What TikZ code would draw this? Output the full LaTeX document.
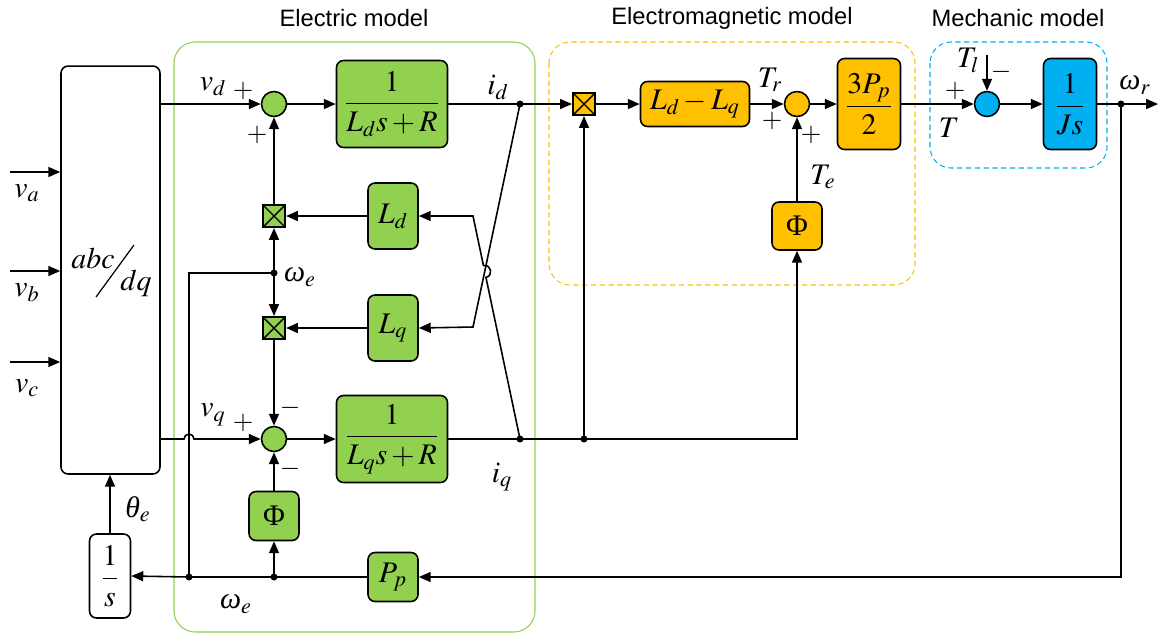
\documentclass[tikz,border=0pt]{standalone}
\usepackage{mathptmx}
\usepackage[no-math]{fontspec}
\newfontfamily\titlefont{Liberation Sans}
\newfontfamily\grkfont{Liberation Serif}
\usepackage{amsmath}
\usepackage{tikz}
\usetikzlibrary{arrows.meta,calc}
\definecolor{elecGreen} {RGB}{146, 208,  80}
\definecolor{emagOrange}{RGB}{255, 192,   0}
\definecolor{mechBlue}  {RGB}{  0, 176, 240}
\newcommand{\gomega}{\text{\grkfont\itshape ω}}
\newcommand{\gtheta}{\text{\grkfont\itshape θ}}
\newcommand{\gPhi}{\text{\grkfont Φ}}

\tikzset{
  blk/.style={draw=black,line width=0.9pt,rounded corners=4pt,align=center,
              inner sep=0pt,font=\fontsize{17}{20}\selectfont},
  gblk/.style={blk,fill=elecGreen},
  oblk/.style={blk,fill=emagOrange},
  bblk/.style={blk,fill=mechBlue},
  wblk/.style={blk,fill=white},
  sumc/.style={circle,draw=black,line width=0.9pt,minimum size=0.5cm,inner sep=0pt},
  mult/.style={rectangle,draw=black,line width=0.9pt,minimum size=0.45cm,inner sep=0pt,
               path picture={\draw[line width=0.8pt]
                 (path picture bounding box.north west)--(path picture bounding box.south east)
                 (path picture bounding box.north east)--(path picture bounding box.south west);}},
  sig/.style={line width=0.9pt,-{Triangle[length=6.8pt,width=5.7pt]}},
  wire/.style={line width=0.9pt},
  lbl/.style={inner sep=0pt,font=\fontsize{17}{20}\selectfont},
  sgn/.style={inner sep=0pt,font=\fontsize{15}{18}\selectfont},
  ttl/.style={font=\titlefont\fontsize{13.5}{16}\selectfont},
}

\begin{document}
\begin{tikzpicture}[x=0.02cm,y=-0.02cm]
  \useasboundingbox (0,0) rectangle (1158,633);

  % ── FRAMES ─────────────────────────────────────────────
  \draw[elecGreen,line width=0.6pt,rounded corners=12pt] (174,42) rectangle (535,632);
  \draw[emagOrange,line width=0.6pt,dash pattern=on 3pt off 2pt,rounded corners=12pt]
    (549,42) rectangle (915,285);
  \draw[mechBlue,line width=0.6pt,dash pattern=on 3pt off 2pt,rounded corners=12pt]
    (930,42) rectangle (1107,168);
  \node[ttl] (ttlE) at (354,18){Electric model};
  \node[ttl] (ttlM) at (732,18){Electromagnetic model};
  \node[ttl] (ttlK) at (1018,18){Mechanic model};

  % ── ABC/DQ ─────────────────────────────────────────────
  \node[wblk,minimum width=1.98cm,minimum height=8.16cm] (abc) at (110.5,270){};
  \node[lbl] (abctxt) at (93,258){$abc$};
  \node[lbl] (dqtxt) at (136,283){$dq$};
  \draw[line width=0.7pt] (96,297)--(134,245);
  \node[wblk,minimum width=0.82cm,minimum height=1.68cm] (invs) at (110,576){$\dfrac{1}{s}$};
  \coordinate (vain) at (10,172);
  \coordinate (vbin) at (10,271);
  \coordinate (vcin) at (10,362);
  \draw[sig] (vain) -- (vain -| abc.west);
  \draw[sig] (vbin) -- (vbin -| abc.west);
  \draw[sig] (vcin) -- (vcin -| abc.west);
  \node[lbl] (va) at (27,193){$v_a$};
  \node[lbl] (vb) at (27,293){$v_b$};
  \node[lbl] (vc) at (27,388){$v_c$};
  \node[lbl] (the) at (138,509){$\gtheta_e$};

  % ── ELECTRIC MODEL ─────────────────────────────────────
  \node[sumc,fill=elecGreen] (sumd) at (274,104){};
  \node[sumc,fill=elecGreen] (sumq) at (274,439){};
  \node[gblk,minimum width=2.22cm,minimum height=1.74cm] (gd) at (392,104){$\dfrac{1}{L_d s+R}$};
  \node[gblk,minimum width=2.22cm,minimum height=1.74cm] (gq) at (392,439){$\dfrac{1}{L_q s+R}$};
  \node[gblk,minimum width=1.0cm,minimum height=1.32cm] (Ld) at (393,216){$L_d$};
  \node[gblk,minimum width=1.0cm,minimum height=1.32cm] (Lq) at (393,328){$L_q$};
  \node[mult,fill=elecGreen] (muld) at (274,216){};
  \node[mult,fill=elecGreen] (mulq) at (274,328){};
  \node[gblk,minimum width=1.0cm,minimum height=0.98cm] (Phig) at (274,516){$\gPhi$};
  \node[gblk,minimum width=1.0cm,minimum height=0.98cm] (Pp) at (393,577){$P_p$};

  \coordinate (idj) at (520,104);
  \coordinate (iqj) at (520,439);
  \coordinate (cpd) at (473,327);
  \coordinate (cpq) at (473,216);
  \coordinate (wej) at (274,273);
  \coordinate (wlft) at (189,273);
  \coordinate (wbj1) at (189,577);
  \coordinate (wbj2) at (274,577);

  \draw[sig] (abc.east |- sumd) -- (sumd.west);
  \draw[sig] (sumd.east) -- (gd.west);
  \draw[wire] (gd.east) -- (idj);
  \draw[sig] (abc.east |- sumq) -- (184,439) arc[start angle=180,end angle=360,radius=5]
    -- (sumq.west);
  \draw[sig] (sumq.east) -- (gq.west);
  \draw[sig] (idj) -- (cpd) -- (Lq.east);
  \draw[sig] (iqj) -- ($(iqj)!0.7248!(cpq)$)
    to[bend right=90,looseness=1.7] ($(iqj)!0.7774!(cpq)$) -- (cpq) -- (Ld.east);
  \draw[sig] (Ld.west) -- (muld.east);
  \draw[sig] (Lq.west) -- (mulq.east);
  \draw[sig] (muld.north) -- (sumd.south);
  \draw[sig] (mulq.south) -- (sumq.north);
  \draw[sig] (wej) -- (muld.south);
  \draw[sig] (wej) -- (mulq.north);
  \draw[wire] (wej) -- (wlft) -- (wbj1);
  \draw[sig] (Phig.north) -- (sumq.south);
  \draw[sig] (wbj2) -- (Phig.south);
  \draw[sig] (Pp.west) -- (wbj2) -- (wbj1) -- (invs.east);
  \draw[sig] (invs.north) -- (invs.north |- abc.south);

  \node[lbl] (vd) at (213,87){$v_d$};
  \node[lbl] (vq) at (213,415){$v_q$};
  \node[lbl] (id) at (498,87){$i_d$};
  \node[lbl] (iq) at (502,477){$i_q$};
  \node[lbl] (we1) at (300,277){$\gomega_e$};
  \node[lbl] (we2) at (236,604){$\gomega_e$};
  \node[sgn] (sd1) at (243,91){$+$};
  \node[sgn] (sd2) at (257,135){$+$};
  \node[sgn] (sq1) at (243,423){$+$};
  \node[sgn] (sq2) at (290,408){$-$};
  \node[sgn] (sq3) at (290,469){$-$};

  % ── ELECTROMAGNETIC MODEL ──────────────────────────────
  \node[mult,fill=emagOrange] (mulE) at (584,104){};
  \node[oblk,minimum width=2.18cm,minimum height=0.9cm] (LdLq) at (695,104){$L_d-L_q$};
  \node[sumc,fill=emagOrange] (sumT) at (797,104){};
  \node[oblk,minimum width=1.0cm,minimum height=0.96cm] (Phio) at (797,226){$\gPhi$};
  \node[oblk,minimum width=1.26cm,minimum height=1.82cm] (Pk) at (869,104){$\dfrac{3P_p}{2}$};
  \coordinate (qj) at (584,439);

  \draw[sig] (idj) -- (mulE.west);
  \draw[sig] (gq.east) -- (qj) -| (Phio.south);
  \draw[sig] (qj) -- (mulE.south);
  \draw[sig] (mulE.east) -- (LdLq.west);
  \draw[sig] (LdLq.east) -- (sumT.west);
  \draw[sig] (Phio.north) -- (sumT.south);
  \draw[sig] (sumT.east) -- (Pk.west);

  \node[lbl] (Tr) at (770,80){$T_r$};
  \node[lbl] (Te) at (823,177){$T_e$};
  \node[sgn] (st1) at (772,121){$+$};
  \node[sgn] (st2) at (811,135){$+$};

  % ── MECHANIC MODEL ─────────────────────────────────────
  \node[sumc,fill=mechBlue] (sumM) at (987,104){};
  \node[bblk,minimum width=1.06cm,minimum height=1.82cm] (Js) at (1070,104){$\dfrac{1}{Js}$};
  \coordinate (Tlin) at (987,55);
  \coordinate (wrj) at (1121,104);
  \coordinate (wrc) at (1121,577);
  \coordinate (outr) at (1158,104);

  \draw[sig] (Pk.east) -- (sumM.west);
  \draw[sig] (Tlin) -- (sumM.north);
  \draw[sig] (sumM.east) -- (Js.west);
  \draw[sig] (Js.east) -- (outr);
  \draw[sig] (wrj) -- (wrc) -- (Pp.east);

  \node[lbl] (Tl) at (968,60){$T_l$};
  \node[lbl] (T) at (949,128){$T$};
  \node[lbl] (wr) at (1135,85){$\gomega_r$};
  \node[sgn] (sm1) at (955,91){$+$};
  \node[sgn] (sm2) at (1001,72){$-$};

  % junction dots
  \foreach \p in {idj,iqj,wej,wbj1,wbj2,qj,wrj}{
    \fill (\p) circle (3.5);
  }

\end{tikzpicture}
\end{document}
